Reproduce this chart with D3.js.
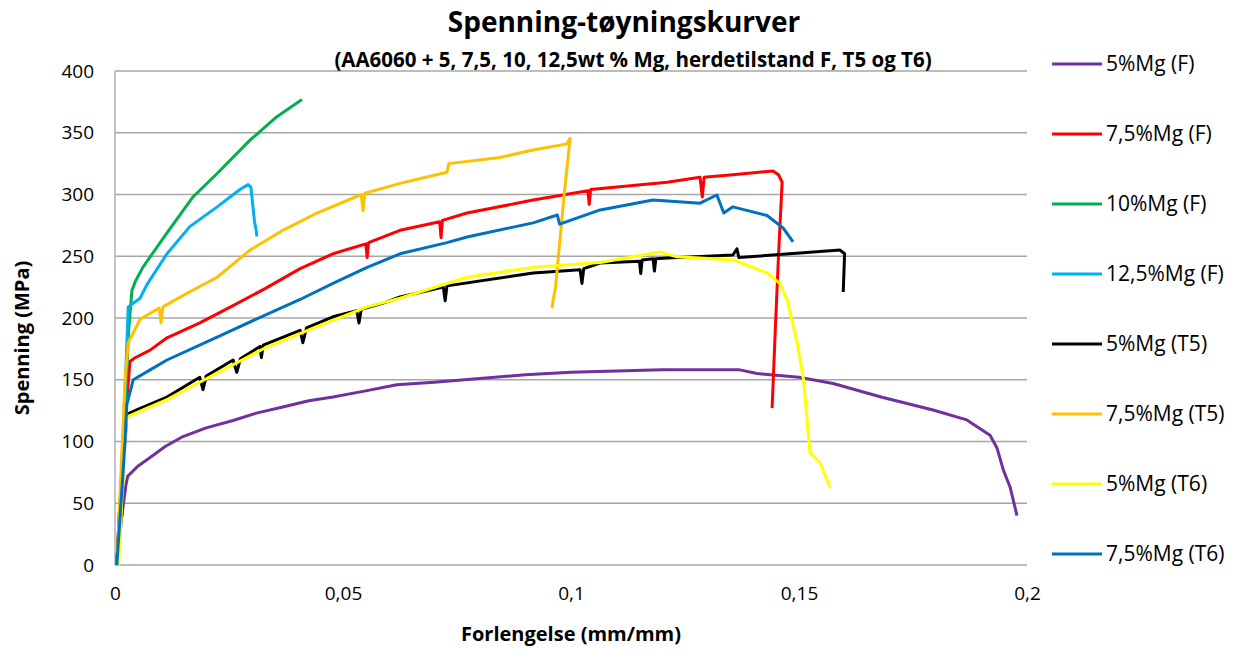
<!DOCTYPE html>
<html>
<head>
<meta charset="utf-8">
<script src="https://cdn.jsdelivr.net/npm/d3@7"></script>
<style>
  body { margin: 0; background: #fff; }
  text { font-family: "Open Sans", sans-serif; fill: #000; }
</style>
</head>
<body>
<script>
const margin = { left: 115, right: 223, top: 71, bottom: 84 };
const width = 1250, height = 649;
const plotW = width - margin.left - margin.right;
const plotH = height - margin.top - margin.bottom;

// series names, colours and curves (strain mm/mm, stress MPa)
const names = ['5%Mg (F)', '7,5%Mg (F)', '10%Mg (F)', '12,5%Mg (F)', '5%Mg (T5)', '7,5%Mg (T5)', '5%Mg (T6)', '7,5%Mg (T6)'];
const colors = ['#7030A0', '#FF0000', '#00B050', '#00B0F0', '#000000', '#FFC000', '#FFFF00', '#0070C0'];

const mg5F = [[0.0004,0],[0.0015,40],[0.0024,65],[0.0028,72],[0.005,80],[0.0077,87],[0.011,96],[0.0149,104],[0.02,111],[0.0259,117],[0.031,123],[0.0368,128],[0.0425,133],[0.0478,136],[0.055,141],[0.0618,146],[0.07,148],[0.08,151],[0.09,154],[0.1,156],[0.11,157],[0.12,158],[0.13,158],[0.137,158],[0.1408,155],[0.15,152],[0.1575,147],[0.168,136],[0.1794,125.5],[0.1868,117.5],[0.1919,105],[0.1934,95],[0.1948,77],[0.1963,63],[0.1978,40]];
const mg75F = [[0.0004,0],[0.0015,70],[0.0025,130],[0.0033,165],[0.0045,168],[0.0077,174],[0.0114,184],[0.0186,196],[0.0259,210],[0.033,224],[0.0406,240],[0.0478,252],[0.055,260],[0.0553,249],[0.0556,261],[0.0625,271],[0.0712,278],[0.0715,265],[0.0718,279],[0.0772,285],[0.0917,295.5],[0.1037,303],[0.104,292],[0.1043,304],[0.1211,310],[0.1283,314],[0.1288,298],[0.1292,314],[0.1355,316],[0.1443,319],[0.1455,316],[0.1463,310],[0.1455,250],[0.1448,190],[0.1441,127]];
const mg10F = [[0.0004,0],[0.002,110],[0.003,190],[0.0037,222],[0.0045,230],[0.0061,241],[0.0114,269],[0.0171,298],[0.0224,317],[0.0296,344],[0.0355,363],[0.041,377]];
const mg125F = [[0.0004,0],[0.0015,80],[0.0025,170],[0.0029,209],[0.0055,216],[0.007,227],[0.0114,252],[0.0164,274],[0.0224,290],[0.0274,304],[0.0292,308],[0.0298,306],[0.0304,285],[0.0306,278],[0.031,270],[0.0311,266]];
const mg5T5 = [[0.0004,0],[0.001,45],[0.0015,40],[0.0018,90],[0.0022,100],[0.0026,122],[0.005,126],[0.0114,136],[0.0186,152],[0.0193,142],[0.02,153],[0.0259,166],[0.0267,156],[0.0275,167],[0.0318,177],[0.0321,168],[0.0325,178],[0.0406,190],[0.0412,180],[0.042,192],[0.0478,201],[0.053,206],[0.0535,196],[0.054,207],[0.0588,212],[0.0625,217],[0.072,225],[0.0724,214],[0.0728,226],[0.0917,236.5],[0.102,239],[0.1024,228],[0.1028,240],[0.1064,244.5],[0.115,246],[0.1153,236],[0.1156,247],[0.118,248],[0.1183,238],[0.1186,248],[0.1211,248.5],[0.1355,251],[0.1364,256],[0.1368,249],[0.1502,252.6],[0.159,255],[0.160,252],[0.1597,221]];
const mg75T5 = [[0.0004,0],[0.0015,90],[0.0022,150],[0.0029,180],[0.0055,199],[0.0097,208],[0.0101,196],[0.0105,209],[0.0158,220],[0.0224,233],[0.0296,255],[0.0368,271],[0.0443,285],[0.054,300],[0.0544,287],[0.0548,301],[0.0625,309],[0.0728,318],[0.0732,325],[0.0844,330],[0.0917,336],[0.0991,341],[0.0998,345.5],[0.0985,300],[0.0975,260],[0.0966,225],[0.0958,208]];
const mg5T6 = [[0.0008,0],[0.0015,50],[0.0022,100],[0.0026,120],[0.0114,134],[0.0224,155.5],[0.0333,176.5],[0.0443,193],[0.0553,209],[0.0625,216],[0.0772,233],[0.0917,241],[0.1064,245],[0.1136,249.6],[0.1195,253.5],[0.1232,249.6],[0.1283,248.5],[0.1355,247],[0.143,236.5],[0.1458,228],[0.1474,214.6],[0.1496,180],[0.151,150],[0.1524,91],[0.1546,83],[0.1568,63]];
const mg75T6 = [[0.0004,0],[0.0015,60],[0.0022,100],[0.0026,130],[0.004,150],[0.0077,158],[0.0114,166],[0.0224,184.6],[0.0333,203],[0.0406,215],[0.0478,228],[0.0553,241],[0.0625,252],[0.0728,261],[0.0772,265.6],[0.0917,277],[0.097,283.4],[0.0975,276],[0.1064,287.5],[0.118,295.5],[0.1283,293],[0.132,299.6],[0.1335,285],[0.1355,290],[0.143,283],[0.1465,273],[0.1487,261.6]];
const curves = [mg5F, mg75F, mg10F, mg125F, mg5T5, mg75T5, mg5T6, mg75T6];

const xTicks = [0, 0.05, 0.1, 0.15, 0.2];
const yTicks = [0, 50, 100, 150, 200, 250, 300, 350, 400];

const svg = d3.select('body').append('svg')
    .attr('width', width)
    .attr('height', height);

const g = svg.append('g').attr('transform', `translate(${margin.left},${margin.top})`);

const x = d3.scaleLinear().domain([0, 0.2]).range([0, plotW]);
const y = d3.scaleLinear().domain([0, 400]).range([plotH, 0]);

// gridlines
g.append('g').selectAll('line')
    .data(yTicks)
    .enter().append('line')
    .attr('x1', 0).attr('x2', plotW)
    .attr('y1', d => y(d)).attr('y2', d => y(d))
    .attr('stroke', '#a6a6a6')
    .attr('stroke-width', 1.3);

g.append('line')
    .attr('x1', 0).attr('x2', 0)
    .attr('y1', 0).attr('y2', plotH)
    .attr('stroke', '#a6a6a6')
    .attr('stroke-width', 1.3);

// axes
const comma = d => String(d).replace('.', ',');
const xAxis = g.append('g')
    .attr('transform', `translate(0,${plotH})`)
    .call(d3.axisBottom(x).tickValues(xTicks).tickSize(0).tickPadding(22).tickFormat(comma));
const yAxis = g.append('g')
    .call(d3.axisLeft(y).tickValues(yTicks).tickSize(0).tickPadding(21));
[xAxis, yAxis].forEach(a => {
    a.select('.domain').remove();
    a.selectAll('text').style('font-size', '19px').style('font-family', '"Open Sans", sans-serif').attr('fill', '#000');
});

// curves
const line = d3.line().x(d => x(d[0])).y(d => y(d[1]));
g.append('g').selectAll('path')
    .data(curves)
    .enter().append('path')
    .attr('d', line)
    .attr('fill', 'none')
    .attr('stroke', (d, i) => colors[i])
    .attr('stroke-width', 3)
    .attr('stroke-linejoin', 'round');

// titles
svg.append('text')
    .text('Spenning-tøyningskurver')
    .attr('x', 624).attr('y', 32)
    .attr('text-anchor', 'middle')
    .style('font-size', '28px')
    .style('font-weight', 700);

svg.append('text')
    .text('(AA6060 + 5, 7,5, 10, 12,5wt % Mg, herdetilstand F, T5 og T6)')
    .attr('x', 633).attr('y', 67)
    .attr('text-anchor', 'middle')
    .style('font-size', '20.5px')
    .style('font-weight', 700);

svg.append('text')
    .text('Forlengelse (mm/mm)')
    .attr('x', margin.left + plotW / 2).attr('y', 641)
    .attr('text-anchor', 'middle')
    .style('font-size', '20px')
    .style('font-weight', 700);

svg.append('text')
    .text('Spenning (MPa)')
    .attr('transform', `translate(29,${margin.top + plotH / 2 + 20}) rotate(-90)`)
    .attr('text-anchor', 'middle')
    .style('font-size', '20px')
    .style('font-weight', 700);

// legend
const legend = svg.append('g').attr('transform', 'translate(1052,64)');
const item = legend.selectAll('g')
    .data(names)
    .enter().append('g')
    .attr('transform', (d, i) => `translate(0,${i * 70})`);
item.append('line')
    .attr('x1', 0).attr('x2', 50)
    .attr('stroke', (d, i) => colors[i])
    .attr('stroke-width', 3);
item.append('text')
    .text(d => d)
    .attr('x', 54).attr('y', 7)
    .style('font-size', '21px');
</script>
</body>
</html>
